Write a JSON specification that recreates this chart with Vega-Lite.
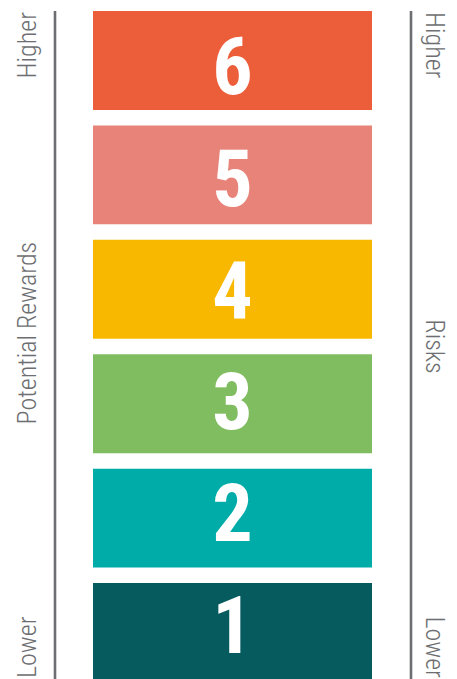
{
  "$schema": "https://vega.github.io/schema/vega-lite/v6.json",
  "width": 457,
  "height": 679,
  "autosize": {"type": "fit", "contains": "padding"},
  "padding": 0,
  "background": "white",
  "config": {"view": {"stroke": null}},
  "datasets": {
    "levels": [
      {"level": 6, "color": "#EC5E3A"},
      {"level": 5, "color": "#E8837A"},
      {"level": 4, "color": "#F9B800"},
      {"level": 3, "color": "#80BC60"},
      {"level": 2, "color": "#00ACA8"},
      {"level": 1, "color": "#065B5F"}
    ],
    "rails": [
      {"side": "left", "x": 55, "from": 0, "to": 1},
      {"side": "right", "x": 411, "from": 0, "to": 1}
    ],
    "labels": [
      {"side": "left", "x": 27.5, "text": "Higher", "pos": 1, "anchor": "end"},
      {"side": "left", "x": 27.5, "text": "Potential Rewards", "pos": 0.52, "anchor": "middle"},
      {"side": "left", "x": 27.5, "text": "Lower", "pos": 0, "anchor": "start"},
      {"side": "right", "x": 434, "text": "Higher", "pos": 1, "anchor": "start"},
      {"side": "right", "x": 434, "text": "Risks", "pos": 0.5, "anchor": "middle"},
      {"side": "right", "x": 434, "text": "Lower", "pos": 0, "anchor": "end"}
    ]
  },
  "layer": [
    {
      "data": {"name": "levels"},
      "mark": {"type": "bar", "cornerRadius": 0},
      "encoding": {
        "y": {"field": "level", "type": "ordinal", "scale": {"domain": [6, 5, 4, 3, 2, 1], "range": [11, 682], "paddingInner": 0.135, "paddingOuter": 0}, "axis": null},
        "x": {"datum": 93, "type": "quantitative", "scale": {"domain": [0, 457], "range": [0, 457], "nice": false, "zero": false}, "axis": null},
        "x2": {"datum": 372},
        "color": {"field": "color", "type": "nominal", "scale": null, "legend": null}
      }
    },
    {
      "data": {"name": "levels"},
      "mark": {"type": "text", "font": "Roboto Condensed, Open Sans Condensed, Noto Sans Condensed, Liberation Sans Narrow, DejaVu Sans Condensed, DejaVu Sans, sans-serif", "fontWeight": "bold", "fontSize": 80, "color": "white", "baseline": "middle", "align": "center", "dy": 3},
      "encoding": {
        "y": {"field": "level", "type": "ordinal", "scale": {"domain": [6, 5, 4, 3, 2, 1], "range": [11, 682], "paddingInner": 0.135, "paddingOuter": 0}, "axis": null},
        "x": {"datum": 232.5, "type": "quantitative", "scale": {"domain": [0, 457], "range": [0, 457], "nice": false, "zero": false}, "axis": null},
        "text": {"field": "level", "type": "nominal"}
      }
    },
    {
      "layer": [
        {
          "data": {"name": "rails"},
          "mark": {"type": "rule", "stroke": "#6D6E71", "strokeWidth": 2.6},
          "encoding": {
            "x": {"field": "x", "type": "quantitative", "scale": {"domain": [0, 457], "range": [0, 457], "nice": false, "zero": false}, "axis": null},
            "y": {"field": "from", "type": "quantitative", "scale": {"domain": [0, 1], "range": [682, 11], "nice": false, "zero": false}, "axis": null},
            "y2": {"field": "to"}
          }
        },
        {
          "data": {"name": "labels"},
          "transform": [{"filter": "datum.side == 'left' && datum.anchor == 'end'"}],
          "mark": {"type": "text", "font": "Roboto Condensed, Roboto", "fontWeight": 300, "fontSize": 26, "color": "#6D6E71", "angle": 270, "align": "right", "baseline": "middle", "dx": -1},
          "encoding": {
            "x": {"field": "x", "type": "quantitative", "axis": null},
            "y": {"field": "pos", "type": "quantitative", "axis": null},
            "text": {"field": "text"}
          }
        },
        {
          "data": {"name": "labels"},
          "transform": [{"filter": "datum.side == 'left' && datum.anchor == 'middle'"}],
          "mark": {"type": "text", "font": "Roboto Condensed, Roboto", "fontWeight": 300, "fontSize": 26, "color": "#6D6E71", "angle": 270, "align": "center", "baseline": "middle"},
          "encoding": {
            "x": {"field": "x", "type": "quantitative", "axis": null},
            "y": {"field": "pos", "type": "quantitative", "axis": null},
            "text": {"field": "text"}
          }
        },
        {
          "data": {"name": "labels"},
          "transform": [{"filter": "datum.side == 'left' && datum.anchor == 'start'"}],
          "mark": {"type": "text", "font": "Roboto Condensed, Roboto", "fontWeight": 300, "fontSize": 26, "color": "#6D6E71", "angle": 270, "align": "left", "baseline": "middle", "dx": 4},
          "encoding": {
            "x": {"field": "x", "type": "quantitative", "axis": null},
            "y": {"field": "pos", "type": "quantitative", "axis": null},
            "text": {"field": "text"}
          }
        },
        {
          "data": {"name": "labels"},
          "transform": [{"filter": "datum.side == 'right' && datum.anchor == 'start'"}],
          "mark": {"type": "text", "font": "Roboto Condensed, Roboto", "fontWeight": 300, "fontSize": 26, "color": "#6D6E71", "angle": 90, "align": "left", "baseline": "middle", "dx": 1},
          "encoding": {
            "x": {"field": "x", "type": "quantitative", "axis": null},
            "y": {"field": "pos", "type": "quantitative", "axis": null},
            "text": {"field": "text"}
          }
        },
        {
          "data": {"name": "labels"},
          "transform": [{"filter": "datum.side == 'right' && datum.anchor == 'middle'"}],
          "mark": {"type": "text", "font": "Roboto Condensed, Roboto", "fontWeight": 300, "fontSize": 26, "color": "#6D6E71", "angle": 90, "align": "center", "baseline": "middle"},
          "encoding": {
            "x": {"field": "x", "type": "quantitative", "axis": null},
            "y": {"field": "pos", "type": "quantitative", "axis": null},
            "text": {"field": "text"}
          }
        },
        {
          "data": {"name": "labels"},
          "transform": [{"filter": "datum.side == 'right' && datum.anchor == 'end'"}],
          "mark": {"type": "text", "font": "Roboto Condensed, Roboto", "fontWeight": 300, "fontSize": 26, "color": "#6D6E71", "angle": 90, "align": "right", "baseline": "middle", "dx": -4},
          "encoding": {
            "x": {"field": "x", "type": "quantitative", "axis": null},
            "y": {"field": "pos", "type": "quantitative", "axis": null},
            "text": {"field": "text"}
          }
        }
      ]
    }
  ],
  "resolve": {"scale": {"y": "independent"}}
}
